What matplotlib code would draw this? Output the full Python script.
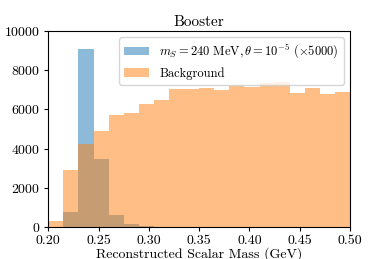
import numpy as np
import matplotlib
matplotlib.use("Agg")
import matplotlib.pyplot as plt

plt.rcParams['font.family'] = 'serif'
plt.rcParams['font.serif'] = ['cmr10']
plt.rcParams['mathtext.fontset'] = 'cm'
plt.rcParams['axes.formatter.use_mathtext'] = True

# 20 bins of 15 MeV between 0.20 and 0.50 GeV
bin_edges = np.linspace(0.20, 0.50, 21)
signal_counts = [0, 750, 9070, 3470, 600, 170, 40, 0, 0, 0,
                 0, 0, 0, 0, 0, 0, 0, 0, 0, 0]
background_counts = [300, 2930, 4220, 4900, 5730, 5800, 6270, 6460, 7040, 7030,
                     7090, 6970, 7180, 7140, 7350, 7400, 6840, 7090, 6770, 6890]
signal_label = r'$m_S = 240~\mathrm{MeV}, \theta = 10^{-5}~(\times 5000)$'
background_label = 'Background'

centers = 0.5 * (bin_edges[:-1] + bin_edges[1:])

fig = plt.figure(figsize=(3.89, 2.59), dpi=100)
ax = fig.add_axes([0.124, 0.124, 0.776, 0.756])

ax.hist(centers, bins=bin_edges, weights=signal_counts, alpha=0.5, label=signal_label)
ax.hist(centers, bins=bin_edges, weights=background_counts, alpha=0.5, label=background_label)

ax.set_xlim(0.20, 0.50)
ax.set_ylim(0, 10000)
ax.set_xticks([0.20, 0.25, 0.30, 0.35, 0.40, 0.45, 0.50])
ax.set_xticklabels(['0.20', '0.25', '0.30', '0.35', '0.40', '0.45', '0.50'])
ax.set_yticks([0, 2000, 4000, 6000, 8000, 10000])
ax.tick_params(labelsize=10, length=3, pad=2.5)
ax.set_title('Booster', fontsize=11, pad=4)
ax.set_xlabel('Reconstructed Scalar Mass (GeV)', fontsize=10, labelpad=0.5)
ax.set_ylabel('Number of Events', fontsize=10, labelpad=3)
ax.legend(loc='upper right', fontsize=9)

fig.savefig('out.png', dpi=100)
